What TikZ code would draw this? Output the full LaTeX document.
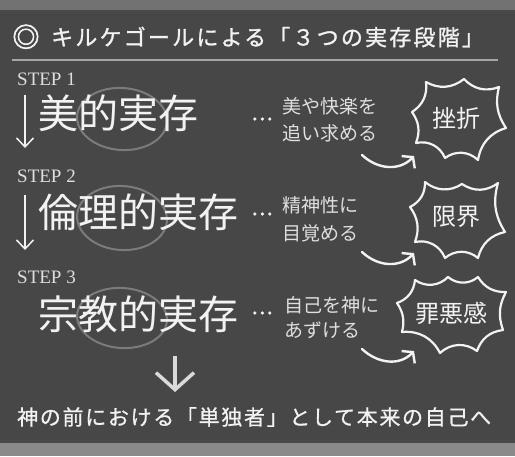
\documentclass[tikz,border=0pt]{standalone}
\usepackage{fontspec}
\setmainfont{Liberation Serif}
\newfontfamily\jp{Noto Sans CJK JP}
\newfontfamily\jpsp{Noto Sans CJK JP}[LetterSpace=10,FakeBold=1.2]
\newfontfamily\jpsq{Noto Sans CJK JP}[LetterSpace=8,FakeBold=0.8]
\newfontfamily\jpb{Noto Sans CJK JP}[FakeBold=2.5]
\usetikzlibrary{arrows.meta}
\definecolor{board}{HTML}{474747}
\definecolor{chalk}{HTML}{F2F2F2}
\definecolor{frametop}{HTML}{727272}
\definecolor{framebot}{HTML}{8A8A8A}
\tikzset{
  chalkline/.style={draw=chalk, line width=2.2pt, line cap=round, line join=round},
  burst/.style={chalkline},
  ring/.style={draw=gray!75!white, line width=2pt, opacity=.6},
  bigtxt/.style={font=\jp\fontsize{40}{40}\selectfont, text=chalk, inner sep=0, anchor=base west},
  desctxt/.style={font=\jp\fontsize{19}{19}\selectfont, text=chalk!92!black, inner sep=0, anchor=base west},
  steptxt/.style={font=\fontsize{19}{19}\selectfont, text=chalk!92!black, inner sep=0, anchor=base west},
  bursttxt/.style={font=\jp\fontsize{24}{24}\selectfont, text=chalk, inner sep=0, anchor=base},
  dotstxt/.style={font=\jpb\fontsize{20}{20}\selectfont, text=chalk, inner sep=0, anchor=center},
  downarrow/.style={draw=chalk, line width=1.5pt, -{Straight Barb[length=9pt,width=17pt,line width=1.5pt]}},
  curvearrow/.style={draw=chalk, line width=2.4pt, line cap=round, -{Straight Barb[length=7pt,width=18pt,line width=2.4pt]}},
  bigarrow/.style={draw=chalk!90!black, line width=3.5pt, -{Straight Barb[length=17pt,width=38pt,line width=3.5pt]}}
}
\begin{document}
\begin{tikzpicture}[x=1pt,y=-1pt]
\useasboundingbox (0,0) rectangle (515,456);
% board and frame
\fill[board] (0,0) rectangle (515,456);
\fill[frametop] (0,0) rectangle (515,10);
\fill[black!70, opacity=.5] (0,10) rectangle (515,13);
\fill[framebot] (0,443) rectangle (515,456);
\fill[black!70, opacity=.5] (0,440) rectangle (515,443);

% title
\node[font=\jpb\fontsize{27}{27}\selectfont, text=chalk, inner sep=0, anchor=base] (mark) at (26,47) {◎};
\node[font=\jpsp\fontsize{22}{22}\selectfont, text=chalk, inner sep=0, anchor=base west] (title) at (51,45.5) {キルケゴールによる「３つの実存段階」};
\draw[line width=1.6pt, draw=gray!70!white] (12,60) -- (498,60);

% rings
\draw[ring, rotate around={-4:(122,119)}] (122,119) ellipse [x radius=45, y radius=31];
\draw[ring, rotate around={-4:(122,218)}] (122,218) ellipse [x radius=45, y radius=32];
\draw[ring, rotate around={-4:(122,318)}] (122,318) ellipse [x radius=45, y radius=30];

% steps
\node[steptxt] (s1) at (17,85) {STEP 1};
\node[steptxt] (s2) at (17,182.5) {STEP 2};
\node[steptxt] (s3) at (17,283) {STEP 3};

\node[bigtxt] (e1) at (38,128) {美的実存};
\node[bigtxt] (e2) at (38,227) {倫理的実存};
\node[bigtxt] (e3) at (38,329) {宗教的実存};

\coordinate (a1s) at (25,95);  \coordinate (a1e) at (25,148);
\coordinate (a2s) at (25,195); \coordinate (a2e) at (25,250);
\draw[downarrow] (a1s) -- (a1e);
\draw[downarrow] (a2s) -- (a2e);

% dots
\node[dotstxt] (d1) at (262,119) {…};
\node[dotstxt] (d2) at (262,214) {…};
\node[dotstxt] (d3) at (262,313) {…};

% descriptions
\node[desctxt] (t1a) at (282,113) {美や快楽を};
\node[desctxt] (t1b) at (282,140) {追い求める};
\node[desctxt] (t2a) at (282,212) {精神性に};
\node[desctxt] (t2b) at (282,240) {目覚める};
\node[desctxt] (t3a) at (284,312) {自己を神に};
\node[desctxt] (t3b) at (284,337) {あずける};

% bursts
\draw[burst] (412,112) to[bend right=32] (426,82) to[bend right=34] (464,79) to[bend right=34] (499,87)
  to[bend right=24] (506,128) to[bend right=32] (478,160) to[bend right=40] (445,158)
  to[bend right=40] (416,143) to[bend right=28] cycle;
\draw[burst] (410,207) to[bend right=32] (425,182) to[bend right=36] (462,184) to[bend right=36] (498,183)
  to[bend right=24] (505,232) to[bend right=32] (478,258) to[bend right=40] (445,258)
  to[bend right=40] (415,242) to[bend right=28] cycle;
\draw[burst] (397,303) to[bend right=32] (415,280) to[bend right=40] (448,277) to[bend right=40] (478,277)
  to[bend right=30] (506,292) to[bend right=24] (503,330) to[bend right=32] (477,351)
  to[bend right=40] (440,353) to[bend right=34] (402,332) to[bend right=24] cycle;
\node[bursttxt] (b1) at (456,127) {挫折};
\node[bursttxt] (b2) at (456,225) {限界};
\node[bursttxt] (b3) at (451,322) {罪悪感};

% curved arrows
\coordinate (c1s) at (362,155); \coordinate (c1e) at (414,156);
\coordinate (c2s) at (362,252); \coordinate (c2e) at (414,253);
\coordinate (c3s) at (362,349); \coordinate (c3e) at (414,351);
\draw[curvearrow] (c1s) .. controls (378,170) and (400,171) .. (c1e);
\draw[curvearrow] (c2s) .. controls (378,267) and (400,268) .. (c2e);
\draw[curvearrow] (c3s) .. controls (378,364) and (400,366) .. (c3e);

% final
\coordinate (fs) at (175,356); \coordinate (fe) at (175,392);
\draw[bigarrow] (fs) -- (fe);
\node[font=\jpsq\fontsize{21}{21}\selectfont, text=chalk, inner sep=0, anchor=base west] (final) at (17,425) {神の前における「単独者」として本来の自己へ};
\end{tikzpicture}
\end{document}
